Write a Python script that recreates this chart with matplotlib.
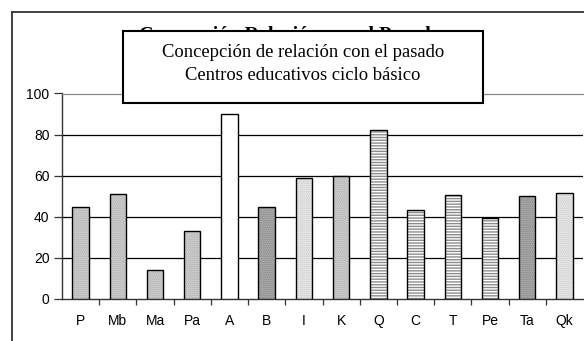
import matplotlib
matplotlib.use("Agg")
import matplotlib.pyplot as plt
from matplotlib.patches import Rectangle
from matplotlib.lines import Line2D

# Data
categories = ["P", "Mb", "Ma", "Pa", "A", "B", "I", "K", "Q", "C", "T", "Pe", "Ta", "Qk"]
values = [45, 51, 14, 33, 90, 45, 59, 60, 82, 43.5, 50.5, 39.5, 50, 51.5]
fill_styles = ["mid", "mid", "mid", "mid", "white", "dark", "light", "mid",
               "stripe", "stripe", "stripe", "stripe", "dark", "light"]
y_ticks = [0, 20, 40, 60, 80, 100]
title_lines = ["Concepción de relación con el pasado", "Centros educativos ciclo básico"]
hidden_title = "Concepción Relación con el Pasado"

W, H = 584, 341
DPI = 100
fig = plt.figure(figsize=(W / DPI, H / DPI), dpi=DPI)
fig.patch.set_facecolor("white")


def fx(px):
    return px / W


def fy(py):
    return 1 - py / H


# Plot area in pixel coordinates
left_px, right_px, top_px, bottom_px = 62, 583, 93.5, 299
ax = fig.add_axes([fx(left_px), fy(bottom_px), fx(right_px - left_px), (bottom_px - top_px) / H])

styles = {
    "mid": dict(face="#dadada", hatch="........", hatch_col="#a8a8a8"),
    "dark": dict(face="#bcbcbc", hatch="........", hatch_col="#7c7c7c"),
    "light": dict(face="#f4f4f4", hatch="........", hatch_col="#c4c4c4"),
    "stripe": dict(face="white", hatch="------", hatch_col="#8c8c8c"),
    "white": dict(face="white", hatch=None, hatch_col="white"),
}

x = list(range(len(categories)))
bar_w = 0.44
for xi, v, st in zip(x, values, fill_styles):
    s = styles[st]
    ax.bar(xi, v, width=bar_w, color=s["face"], edgecolor=s["hatch_col"],
           hatch=s["hatch"], linewidth=0, zorder=3)
    ax.bar(xi, v, width=bar_w, facecolor="none", edgecolor="black",
           linewidth=1.0, zorder=4)

ax.set_xlim(-0.5, len(categories) - 0.5)
ax.set_ylim(0, 100)
ax.set_yticks(y_ticks)
ax.set_yticklabels([str(t) for t in y_ticks])
ax.set_xticks(x)
ax.set_xticklabels(categories)
ax.set_xticks([i + 0.5 for i in x[:-1]], minor=True)

for t in y_ticks[1:-1]:
    ax.axhline(t, color="black", linewidth=0.9, zorder=1)

ax.tick_params(axis="x", which="major", length=0, pad=11)
ax.tick_params(axis="x", which="minor", length=4, width=0.9, color="#333333")
ax.tick_params(axis="y", length=6, width=0.9, color="#333333", pad=3)
for lab in ax.get_xticklabels() + ax.get_yticklabels():
    lab.set_fontfamily("Liberation Sans")
    lab.set_fontsize(10)

ax.spines["left"].set_color("#333333")
ax.spines["left"].set_linewidth(1.0)
ax.spines["bottom"].set_color("#333333")
ax.spines["bottom"].set_linewidth(1.0)
ax.spines["top"].set_color("#8a8a8a")
ax.spines["top"].set_linewidth(0.9)
ax.spines["right"].set_visible(False)

# Outer chart frame (runs off the right and bottom edges)
fig.add_artist(Line2D([fx(12), fx(W + 5)], [fy(12), fy(12)], color="#333333", linewidth=1.3))
fig.add_artist(Line2D([fx(12), fx(12)], [fy(12), fy(H + 5)], color="#333333", linewidth=1.3))

# Bold chart title, largely covered by the text box
fig.text(fx(290), fy(41.5), hidden_title, ha="center", va="baseline", fontsize=14.5,
         fontweight="bold", fontfamily="Liberation Serif", zorder=5)

# Text box with the two-line title
box = Rectangle((fx(123), fy(103)), fx(483 - 123), (103 - 31) / H, transform=fig.transFigure,
                facecolor="white", edgecolor="black", linewidth=1.5, zorder=10)
fig.add_artist(box)
fig.text(fx(303), fy(57), title_lines[0], ha="center", va="baseline", fontsize=13.4,
         fontfamily="Liberation Serif", zorder=11)
fig.text(fx(303), fy(80), title_lines[1], ha="center", va="baseline", fontsize=13.4,
         fontfamily="Liberation Serif", zorder=11)

fig.savefig("out.png", dpi=DPI)
